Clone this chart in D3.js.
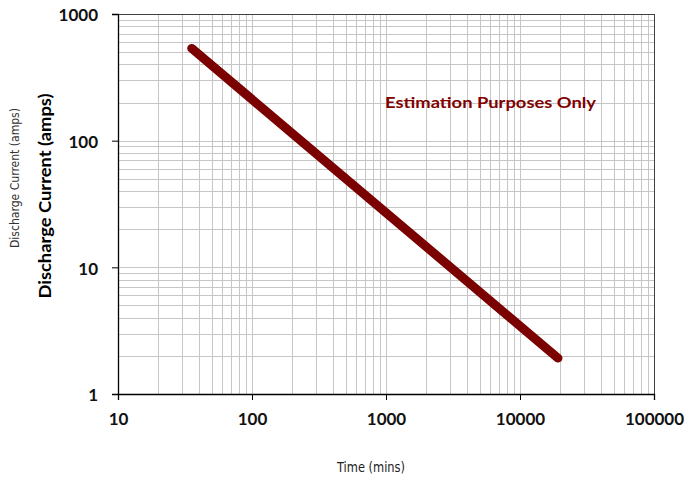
<!DOCTYPE html>
<html>
<head>
<meta charset="utf-8">
<script src="https://cdn.jsdelivr.net/npm/d3@7"></script>
<style>
  body { margin: 0; background: #fff; }
  text { font-family: Lato, "Open Sans", sans-serif; }
</style>
</head>
<body>
<div id="chart"></div>
<script>
// data
const timeDomain = [10, 100000];
const currentDomain = [1, 1000];
const xTicks = [10, 100, 1000, 10000, 100000];
const yTicks = [1, 10, 100, 1000];
const curveTime = [35.5, 19200];
const curveCurrent = [535, 1.92];
const note = 'Estimation Purposes Only';

const W = 686, H = 483;
const margin = { top: 14, right: 32, bottom: 89, left: 118 };
const width = W - margin.left - margin.right;
const height = H - margin.top - margin.bottom;

const svg = d3.select('#chart').append('svg')
    .attr('width', W)
    .attr('height', H);
const g = svg.append('g')
    .attr('transform', 'translate(' + margin.left + ',' + margin.top + ')');

const x = d3.scaleLog().domain(timeDomain).range([0, width]);
const y = d3.scaleLog().domain(currentDomain).range([height, 0]);

// every 1..9 step of each decade
const minorsOf = (dom) => {
    let out = [];
    for (let p = Math.log10(dom[0]); p < Math.log10(dom[1]); p++) {
        for (let k = 1; k <= 9; k++) out.push(k * Math.pow(10, p));
    }
    out.push(dom[1]);
    return out;
};

// grid
g.append('g').selectAll('line')
    .data(minorsOf(timeDomain))
    .enter().append('line')
    .attr('x1', d => Math.round(x(d)) + 0.5)
    .attr('x2', d => Math.round(x(d)) + 0.5)
    .attr('y1', 0).attr('y2', height)
    .attr('stroke', '#c6c6c6');
g.append('g').selectAll('line')
    .data(minorsOf(currentDomain))
    .enter().append('line')
    .attr('y1', d => Math.round(y(d)) + 0.5)
    .attr('y2', d => Math.round(y(d)) + 0.5)
    .attr('x1', 0).attr('x2', width)
    .attr('stroke', '#c6c6c6');

// frame
g.append('rect')
    .attr('x', 0.5).attr('y', 0.5)
    .attr('width', width).attr('height', height)
    .attr('fill', 'none')
    .attr('stroke', '#404040');

// axes
const xAxis = g.append('g')
    .attr('transform', 'translate(0,' + height + ')')
    .call(d3.axisBottom(x).tickValues(xTicks).tickFormat(d3.format('d')).tickSize(6).tickPadding(13));
const yAxis = g.append('g')
    .call(d3.axisLeft(y).tickValues(yTicks).tickFormat(d3.format('d')).tickSize(6).tickPadding(14));
[xAxis, yAxis].forEach(a => {
    a.select('.domain').attr('stroke', '#000').attr('stroke-width', 1.3);
    a.selectAll('.tick line').attr('stroke', '#000');
    a.selectAll('text')
        .attr('fill', '#111')
        .style('font-family', 'Lato, sans-serif')
        .style('font-weight', 'bold')
        .style('font-size', '17px');
});
yAxis.selectAll('text').attr('dy', '0.4em');

// curve
const line = d3.line().x(d => x(d[0])).y(d => y(d[1]));
g.append('path')
    .datum(d3.zip(curveTime, curveCurrent))
    .attr('d', line)
    .attr('fill', 'none')
    .attr('stroke', '#7b0000')
    .attr('stroke-width', 9)
    .attr('stroke-linecap', 'round');

// note
g.append('text')
    .attr('x', 385 - margin.left)
    .attr('y', 108 - margin.top)
    .attr('fill', '#800000')
    .style('font-weight', 'bold')
    .style('font-size', '16px')
    .attr('textLength', 211)
    .attr('lengthAdjust', 'spacingAndGlyphs')
    .text(note);

// axis titles
svg.append('text')
    .attr('transform', 'translate(19,178) rotate(-90)')
    .attr('text-anchor', 'middle')
    .attr('fill', '#333')
    .style('font-family', '"Liberation Sans Narrow", "DejaVu Sans Condensed", sans-serif')
    .style('font-size', '12px')
    .attr('textLength', 140)
    .attr('lengthAdjust', 'spacingAndGlyphs')
    .text('Discharge Current (amps)');
svg.append('text')
    .attr('transform', 'translate(51,196) rotate(-90)')
    .attr('text-anchor', 'middle')
    .attr('fill', '#000')
    .style('font-weight', 'bold')
    .style('font-size', '17px')
    .attr('textLength', 205)
    .attr('lengthAdjust', 'spacingAndGlyphs')
    .text('Discharge Current (amps)');
svg.append('text')
    .attr('x', 371)
    .attr('y', 472)
    .attr('text-anchor', 'middle')
    .attr('fill', '#222')
    .style('font-family', '"Liberation Sans Narrow", "DejaVu Sans Condensed", sans-serif')
    .style('font-size', '14px')
    .attr('textLength', 68)
    .attr('lengthAdjust', 'spacingAndGlyphs')
    .text('Time (mins)');
</script>
</body>
</html>
